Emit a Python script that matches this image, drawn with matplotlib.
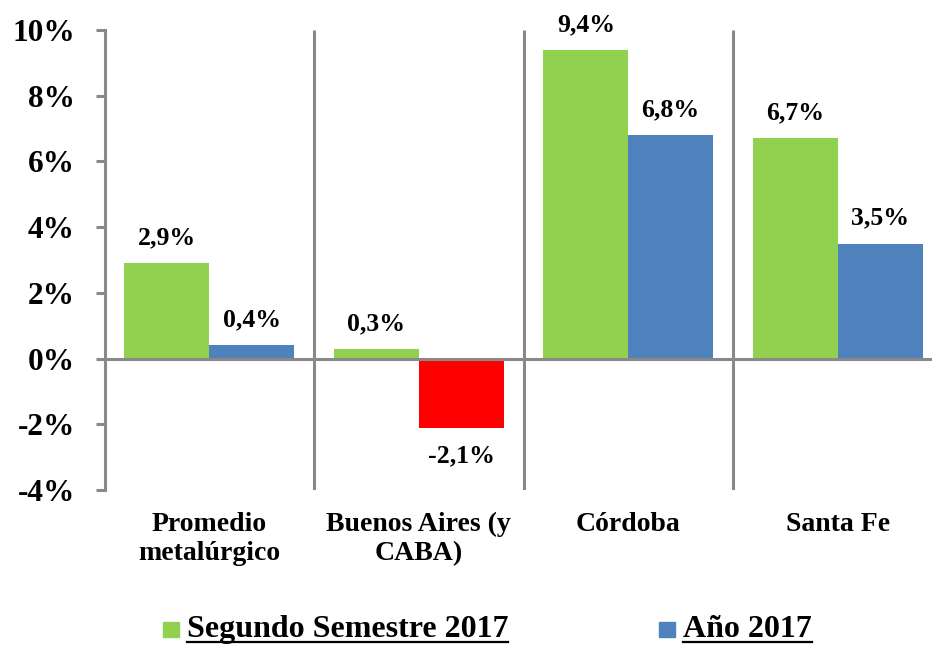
import matplotlib
matplotlib.use("Agg")
import matplotlib.pyplot as plt
from matplotlib.lines import Line2D
from matplotlib.patches import Rectangle

categories = ["Promedio\nmetalúrgico", "Buenos Aires (y\nCABA)", "Córdoba", "Santa Fe"]
segundo_semestre = [2.9, 0.3, 9.4, 6.7]
anio_2017 = [0.4, -2.1, 6.8, 3.5]
series_names = ["Segundo Semestre 2017", "Año 2017"]
y_ticks = [-4, -2, 0, 2, 4, 6, 8, 10]

GREEN = "#92D050"
BLUE = "#4F81BD"
RED = "#FF0000"
GRAY = "#898989"

plt.rcParams['font.family'] = ['Liberation Serif', 'DejaVu Serif']
plt.rcParams['font.weight'] = 'bold'

W, H = 932, 645
fig = plt.figure(figsize=(W / 100, H / 100), dpi=100)
ax = fig.add_axes([104.5 / W, 1 - 490 / H, (942.5 - 104.5) / W, (490 - 30) / H])
ax.set_xlim(0, 4)
ax.set_ylim(-4, 10)

bw = 0.405
for i in range(len(categories)):
    c = i + 0.5
    v1 = segundo_semestre[i]
    v2 = anio_2017[i]
    ax.bar(c - bw / 2, v1, width=bw, color=GREEN, zorder=2, linewidth=0)
    ax.bar(c + bw / 2, v2, width=bw, color=(BLUE if v2 >= 0 else RED), zorder=2, linewidth=0)
    for x, v in ((c - bw / 2, v1), (c + bw / 2, v2)):
        lab = f"{v:.1f}%".replace(".", ",")
        if v >= 0:
            ax.annotate(lab, (x, v), xytext=(0, 10), textcoords="offset points",
                        ha="center", va="bottom", fontsize=18.5, fontweight="bold")
        else:
            ax.annotate(lab, (x, v), xytext=(0, -12), textcoords="offset points",
                        ha="center", va="top", fontsize=18.5, fontweight="bold")

# separators
for xs in (1, 2, 3):
    ax.plot([xs, xs], [-4, 10], color=GRAY, lw=2.2, zorder=1, solid_capstyle="butt")
ax.axhline(0, color=GRAY, lw=2.2, zorder=3)

for s in ("top", "right", "bottom"):
    ax.spines[s].set_visible(False)
ax.spines["left"].set_color(GRAY)
ax.spines["left"].set_linewidth(2.2)

ax.set_yticks(y_ticks)
ax.set_yticklabels([f"{t}%" for t in y_ticks], fontsize=22.5, fontweight="bold")
ax.tick_params(axis="y", length=6.5, width=2.2, color=GRAY, pad=15)

ax.set_xticks([i + 0.5 for i in range(len(categories))])
ax.set_xticklabels(categories, fontsize=20, fontweight="bold", linespacing=1.25)
ax.tick_params(axis="x", length=0, pad=15.5)

# legend (manual, underlined text)
leg_items = [(series_names[0], GREEN, 163), (series_names[1], BLUE, 659)]
base_y = 637
fig.canvas.draw()
renderer = fig.canvas.get_renderer()
for name, col, px in leg_items:
    fig.patches.append(Rectangle((px / W, 1 - 637 / H), 16 / W, 15.5 / H,
                                 transform=fig.transFigure, color=col))
    t = fig.text((px + 24) / W, 1 - base_y / H, name, fontsize=23,
                 fontweight="bold", ha="left", va="baseline")
    bb = t.get_window_extent(renderer)
    uy = 1 - (base_y + 5) / H
    fig.lines.append(Line2D([bb.x0 / W, bb.x1 / W], [uy, uy], transform=fig.transFigure,
                            color="black", lw=1.6))

fig.savefig("out.png", dpi=100)
